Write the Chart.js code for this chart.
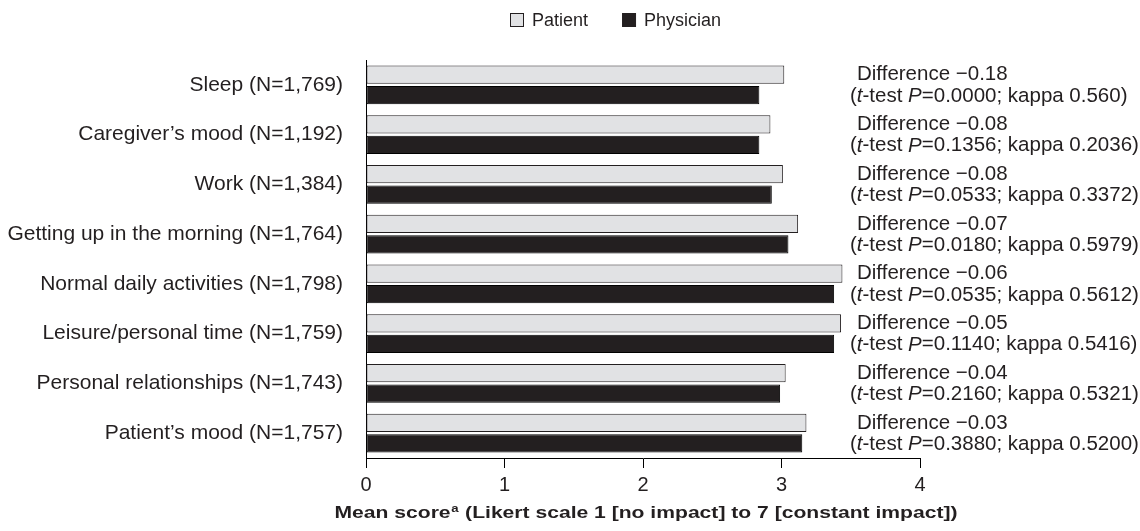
<!DOCTYPE html>
<html>
<head>
<meta charset="utf-8">
<script src="https://cdn.jsdelivr.net/npm/chart.js@4"></script>
<style>
  html, body { margin: 0; padding: 0; background: #fff; }
  #wrap { width: 1140px; height: 531px; }
</style>
</head>
<body>
<div id="wrap"><canvas id="chart"></canvas></div>
<script>
// data
const categories = [
  'Sleep (N=1,769)',
  'Caregiver\u2019s mood (N=1,192)',
  'Work (N=1,384)',
  'Getting up in the morning (N=1,764)',
  'Normal daily activities (N=1,798)',
  'Leisure/personal time (N=1,759)',
  'Personal relationships (N=1,743)',
  'Patient\u2019s mood (N=1,757)'
];
const patientScores = [3.02, 2.92, 3.01, 3.12, 3.44, 3.43, 3.03, 3.18];
const physicianScores = [2.84, 2.84, 2.93, 3.05, 3.38, 3.38, 2.99, 3.15];
const differences = ['\u22120.18', '\u22120.08', '\u22120.08', '\u22120.07', '\u22120.06', '\u22120.05', '\u22120.04', '\u22120.03'];
const pValues = ['0.0000', '0.1356', '0.0533', '0.0180', '0.0535', '0.1140', '0.2160', '0.3880'];
const kappas = ['0.560', '0.2036', '0.3372', '0.5979', '0.5612', '0.5416', '0.5321', '0.5200'];
const xTicks = [0, 1, 2, 3, 4];

const FONT = '"Liberation Sans", Arial, Helvetica, sans-serif';
const INK = '#231f20';

// legend drawn by hand so it can sit off-centre like the original
const legendPlugin = {
  id: 'topLegend',
  afterDraw(chart) {
    const ctx = chart.ctx;
    ctx.save();
    ctx.font = '18px ' + FONT;
    ctx.textBaseline = 'middle';
    let x = 510;
    chart.data.datasets.forEach(ds => {
      ctx.fillStyle = ds.backgroundColor;
      ctx.fillRect(x + 0.5, 13.5, 13, 13);
      ctx.strokeStyle = INK;
      ctx.lineWidth = 1;
      ctx.strokeRect(x + 0.5, 13.5, 13, 13);
      ctx.fillStyle = INK;
      ctx.fillText(ds.label, x + 22, 21);
      x += 22 + ctx.measureText(ds.label).width + 34;
    });
    ctx.restore();
  }
};

// difference / t-test notes right of the bars
const notesPlugin = {
  id: 'notes',
  afterDatasetsDraw(chart) {
    const ctx = chart.ctx;
    const pat = chart.getDatasetMeta(0).data;
    const phy = chart.getDatasetMeta(1).data;
    ctx.save();
    ctx.fillStyle = INK;
    ctx.textBaseline = 'middle';
    const plain = '20.5px ' + FONT;
    const ital = 'italic 20.5px ' + FONT;
    categories.forEach((c, i) => {
      ctx.font = plain;
      ctx.fillText('Difference ' + differences[i], 857, pat[i].y);
      const parts = [
        ['(', plain], ['t', ital], ['-test ', plain], ['P', ital],
        ['=' + pValues[i] + '; kappa ' + kappas[i] + ')', plain]
      ];
      let x = 850;
      parts.forEach(([s, f]) => {
        ctx.font = f;
        ctx.fillText(s, x, phy[i].y + 1);
        x += ctx.measureText(s).width;
      });
    });
    ctx.restore();
  }
};

// x-axis title with superscript a (wide bold face, stretched to the original's width)
const axisTitlePlugin = {
  id: 'axisTitle',
  afterDraw(chart) {
    const ctx = chart.ctx;
    const a = 'Mean score';
    const b = ' (Likert scale 1 [no impact] to 7 [constant impact])';
    const big = 'bold 16px ' + FONT;
    const small = 'bold 10px ' + FONT;
    ctx.save();
    ctx.fillStyle = INK;
    ctx.textBaseline = 'alphabetic';
    ctx.font = big;
    const wa = ctx.measureText(a).width, wb = ctx.measureText(b).width;
    ctx.font = small;
    const ws = ctx.measureText('a').width + 1;
    const total = wa + ws + wb;
    const target = 623;
    const sx = target / total;
    ctx.translate(646 - target / 2, 518);
    ctx.scale(sx, 1);
    let x = 0;
    ctx.font = big;
    ctx.fillText(a, x, 0);
    x += wa;
    ctx.font = small;
    ctx.fillText('a', x + 0.5, -6);
    x += ws;
    ctx.font = big;
    ctx.fillText(b, x, 0);
    ctx.restore();
  }
};

new Chart(document.getElementById('chart'), {
  type: 'bar',
  data: {
    labels: categories,
    datasets: [
      {
        label: 'Patient',
        data: patientScores,
        backgroundColor: '#e1e2e4',
        borderColor: INK,
        borderWidth: 1,
        borderSkipped: false,
        categoryPercentage: 0.82,
        barPercentage: 0.9
      },
      {
        label: 'Physician',
        data: physicianScores,
        backgroundColor: INK,
        borderColor: '#000',
        borderWidth: 1,
        borderSkipped: false,
        categoryPercentage: 0.82,
        barPercentage: 0.9
      }
    ]
  },
  options: {
    indexAxis: 'y',
    responsive: true,
    maintainAspectRatio: false,
    animation: false,
    layout: { padding: { top: 60, right: 220, bottom: 33, left: 0 } },
    plugins: {
      legend: { display: false },
      tooltip: { enabled: false }
    },
    scales: {
      x: {
        min: 0,
        max: 4,
        afterBuildTicks: scale => { scale.ticks = xTicks.map(v => ({ value: v })); },
        afterFit: scale => { scale.height = 40; },
        grid: { drawOnChartArea: false, drawTicks: true, tickLength: 10, color: '#000', lineWidth: 1 },
        border: { display: true, color: '#000', width: 1 },
        ticks: { color: INK, font: { family: FONT, size: 20 }, padding: 5 }
      },
      y: {
        afterFit: scale => { scale.width = 366; },
        grid: { display: false },
        border: { display: true, color: '#000', width: 1 },
        ticks: { color: INK, font: { family: FONT, size: 21 }, padding: 15 }
      }
    }
  },
  plugins: [legendPlugin, notesPlugin, axisTitlePlugin]
});
</script>
</body>
</html>
